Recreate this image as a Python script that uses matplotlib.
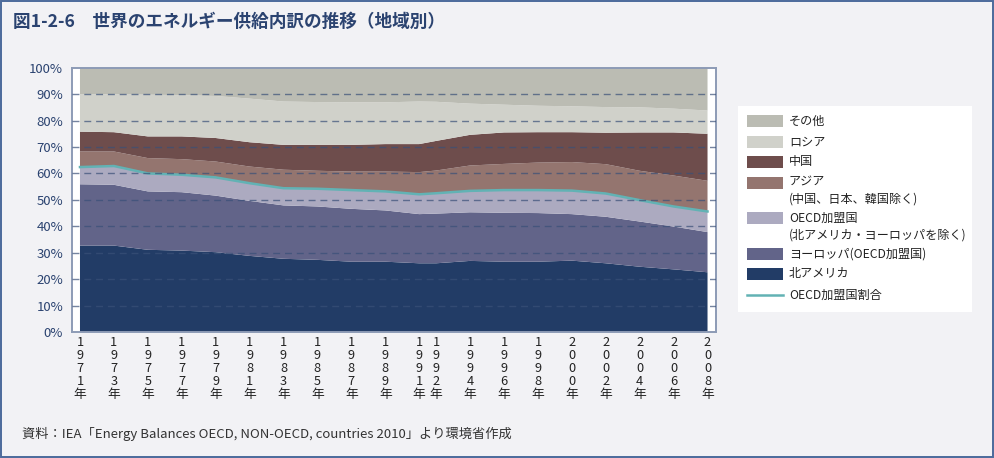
import matplotlib
matplotlib.use("Agg")
import matplotlib.pyplot as plt
from matplotlib.patches import Rectangle
from matplotlib.lines import Line2D

plt.rcParams['font.family'] = ['Noto Sans CJK JP', 'DejaVu Sans']

years = [1971, 1973, 1975, 1977, 1979, 1981, 1983, 1985, 1987, 1989,
         1991, 1992, 1994, 1996, 1998, 2000, 2002, 2004, 2006, 2008]

north_america = [32.7, 32.7, 31.1, 30.8, 30.2, 28.8, 27.7, 27.3, 26.6, 26.6,
                 26.0, 26.0, 26.9, 26.6, 26.6, 27.0, 26.0, 24.7, 23.7, 22.6]
europe_oecd = [23.2, 23.0, 22.1, 22.1, 21.4, 20.8, 20.2, 20.2, 20.0, 19.4,
               18.6, 18.8, 18.4, 18.5, 18.4, 17.6, 17.6, 17.1, 16.2, 15.2]
oecd_other = [6.5, 7.1, 6.8, 6.6, 6.9, 6.7, 6.5, 6.7, 7.1, 7.2,
              7.5, 7.7, 8.1, 8.6, 8.7, 8.9, 8.8, 8.1, 7.6, 7.8]
asia = [5.9, 5.5, 5.8, 5.9, 6.0, 6.3, 7.0, 6.8, 7.0, 7.5,
        8.4, 8.6, 9.6, 9.9, 10.4, 10.8, 11.1, 11.1, 11.7, 11.6]
china = [7.5, 7.3, 8.2, 8.6, 8.9, 9.2, 9.4, 9.8, 10.1, 10.4,
         10.6, 11.2, 11.6, 11.9, 11.5, 11.3, 11.9, 14.5, 16.3, 17.8]
russia = [14.2, 14.3, 15.8, 15.6, 15.9, 16.5, 16.4, 16.2, 16.1, 15.8,
          16.1, 14.8, 11.8, 10.5, 10.0, 9.8, 9.7, 9.5, 9.0, 8.8]
others = [10.0, 10.1, 10.2, 10.4, 10.7, 11.7, 12.8, 13.0, 13.1, 13.1,
          12.8, 12.9, 13.6, 14.0, 14.4, 14.6, 14.9, 15.0, 15.5, 16.2]
oecd_share = [62.4, 62.8, 60.0, 59.5, 58.5, 56.3, 54.4, 54.2, 53.7, 53.2,
              52.1, 52.5, 53.4, 53.7, 53.7, 53.5, 52.4, 49.9, 47.5, 45.6]

series_labels = ['北アメリカ', 'ヨーロッパ(OECD加盟国)',
                 'OECD加盟国\n(北アメリカ・ヨーロッパを除く)',
                 'アジア\n(中国、日本、韓国除く)', '中国', 'ロシア', 'その他']
line_label = 'OECD加盟国割合'
yticks = [0, 10, 20, 30, 40, 50, 60, 70, 80, 90, 100]
xtick_labels = ['\n'.join(list(str(y))) + '\n年' for y in years]

colors = ['#223c66', '#626489', '#acaac0', '#94756f', '#6e4d4c', '#d0d1ca', '#bbbcb3']
line_color = '#62b2b4'
bg = '#f2f2f5'
navy = '#2b4370'

W, H = 994, 458
fig = plt.figure(figsize=(9.94, 4.58), dpi=100, facecolor=bg)
ax = fig.add_axes([71.5 / W, 1 - 332 / H, (716 - 71.5) / W, (332 - 67.7) / H])
ax.set_facecolor('white')

ax.stackplot(years, north_america, europe_oecd, oecd_other, asia, china, russia, others,
             colors=colors, linewidth=0, zorder=1)
ax.plot(years, oecd_share, color=line_color, lw=1.8, zorder=3)

ax.set_xlim(1970.5, 2008.5)
ax.set_ylim(0, 100)
ax.set_yticks(yticks)
ax.set_yticklabels([f'{v}%' for v in yticks], color=navy, fontsize=9.5)
ax.set_xticks(years)
ax.set_xticklabels(xtick_labels, fontsize=9.2, color='#222222', linespacing=1.0)
ax.tick_params(axis='both', length=0, pad=3)
ax.tick_params(axis='y', pad=6)
for v in yticks[1:-1]:
    ax.axhline(v, color='#3a5078', lw=1.0, ls=(0, (5, 3.5)), alpha=0.7, zorder=4)
for s in ax.spines.values():
    s.set_color('#8d9bb6')
    s.set_linewidth(1.4)

# Title
fig.text(13 / W, 1 - 22 / H, '図1-2-6　世界のエネルギー供給内訳の推移（地域別）',
         fontsize=12.7, color=navy, fontweight='bold', va='center', ha='left')
# Source
fig.text(22 / W, 1 - 434 / H,
         '資料：IEA「Energy Balances OECD, NON-OECD, countries 2010」より環境省作成',
         fontsize=9.5, color='#333333', va='center', ha='left')

# Legend box
fig.patches.append(Rectangle((738 / W, 1 - 312 / H), (972 - 738) / W, (312 - 106) / H,
                             transform=fig.transFigure, facecolor='white', edgecolor='none'))
entries = [
    ('patch', colors[6], 'その他', 121),
    ('patch', colors[5], 'ロシア', 142),
    ('patch', colors[4], '中国', 162),
    ('patch', colors[3], series_labels[3], 182.5),
    ('patch', colors[2], series_labels[2], 218),
    ('patch', colors[1], series_labels[1], 254),
    ('patch', colors[0], series_labels[0], 274),
    ('line', line_color, line_label, 295),
]
for kind, c, lab, yc in entries:
    if kind == 'patch':
        fig.patches.append(Rectangle((747 / W, 1 - (yc + 6) / H), 36 / W, 12 / H,
                                     transform=fig.transFigure, facecolor=c, edgecolor='none'))
    else:
        fig.lines.append(Line2D([747 / W, 783 / W], [1 - yc / H, 1 - yc / H],
                                transform=fig.transFigure, color=c, lw=1.8))
    fig.text(789 / W, 1 - yc / H + 6.5 / H, lab, fontsize=8.7, color='#222222',
             va='top', ha='left', linespacing=1.4)

# border
fig.patches.append(Rectangle((0.7 / W, 1 - 456.7 / H), 991.8 / W, 456.0 / H,
                             transform=fig.transFigure, facecolor='none',
                             edgecolor='#4b6a9b', lw=1.4))

fig.savefig('out.png', dpi=100, facecolor=bg)
